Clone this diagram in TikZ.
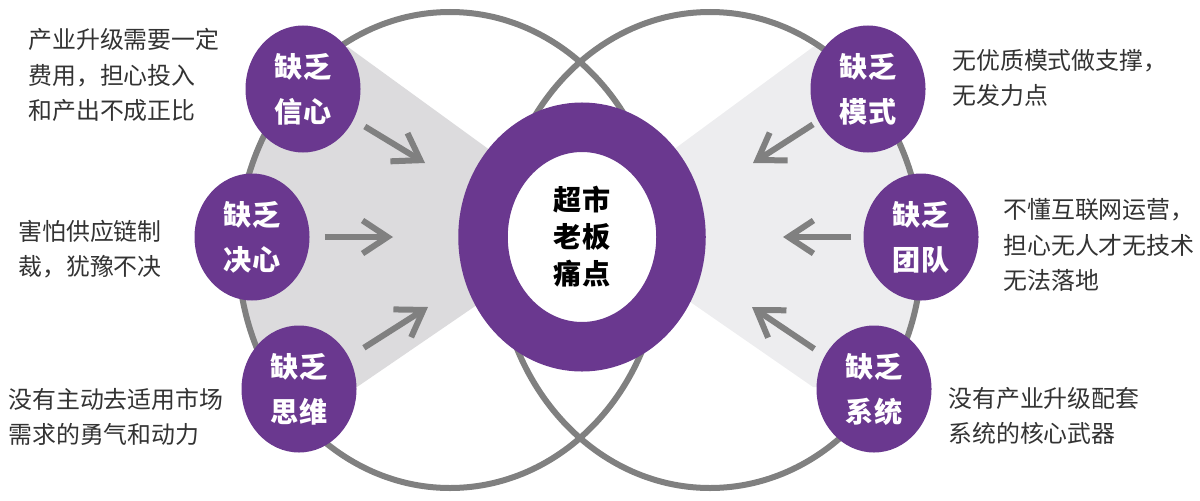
\documentclass[tikz,border=0pt]{standalone}
\usepackage{fontspec}
\setmainfont{Noto Sans CJK SC}
\usetikzlibrary{shapes.geometric,arrows.meta}
\definecolor{plum}{RGB}{106,56,143}
\definecolor{rimgray}{RGB}{128,128,128}
\definecolor{shadeL}{RGB}{220,219,221}
\definecolor{shadeR}{RGB}{237,237,239}
\definecolor{inkgray}{RGB}{51,51,51}
\begin{document}
\begin{tikzpicture}[x=0.2mm,y=-0.2mm,
	lack/.style={ellipse,fill=plum,minimum width=23mm,minimum height=25.4mm,inner sep=0pt,text=white,align=center,font=\fontsize{16pt}{25.6pt}\selectfont\bfseries},
	hub/.style={ellipse,draw=plum,line width=9.9mm,fill=white,minimum width=39.6mm,minimum height=43.9mm,inner sep=0pt,text=black,align=center,font=\fontsize{16pt}{21pt}\selectfont\bfseries},
	note/.style={anchor=west,inner sep=0pt,align=left,text=inkgray,font=\fontsize{13.6pt}{20pt}\selectfont},
	pointer/.style={draw=rimgray,line width=1.2mm,-{Straight Barb[length=5mm,width=6.6mm]}},
	rim/.style={draw=rimgray,line width=1.2mm}]
	\useasboundingbox (0,0) rectangle (1200,500);
	% shaded fans
	\begin{scope}
		\clip (450,250) ellipse [x radius=212, y radius=238];
		\fill[shadeL] (348,47) -- (582,217) -- (582,233) -- (357,387) -- (150,387) -- (150,47) -- cycle;
	\end{scope}
	\begin{scope}
		\clip (710,250) ellipse [x radius=212, y radius=238];
		\fill[shadeR] (813,47) -- (582,217) -- (582,227) -- (813,387) -- (1000,387) -- (1000,47) -- cycle;
	\end{scope}
	% two big circles
	\draw[rim] (450,250) ellipse [x radius=212, y radius=238];
	\draw[rim] (710,250) ellipse [x radius=212, y radius=238];
	% nodes
	\node[lack] (faith) at (303,89) {缺乏\\信心};
	\node[lack] (resolve) at (252,237) {缺乏\\决心};
	\node[lack] (mind) at (299,389) {缺乏\\思维};
	\node[lack] (model) at (868,89) {缺乏\\模式};
	\node[lack] (team) at (921,237) {缺乏\\团队};
	\node[lack] (system) at (874,389) {缺乏\\系统};
	\node[hub] (pain) at (582,237) {超市\\老板\\痛点};
	% arrows
	\coordinate (faith tip) at (425,163);
	\coordinate (resolve tip) at (393,237);
	\coordinate (mind tip) at (428,307);
	\coordinate (model tip) at (753,163);
	\coordinate (team tip) at (783,237);
	\coordinate (system tip) at (752,307);
	\draw[pointer, shorten <=2.6mm] (faith) -- (faith tip);
	\draw[pointer, shorten <=3mm] (resolve) -- (resolve tip);
	\draw[pointer, shorten <=3.5mm] (mind) -- (mind tip);
	\draw[pointer, shorten <=1.2mm] (model) -- (model tip);
	\draw[pointer, shorten <=2.4mm] (team) -- (team tip);
	\draw[pointer, shorten <=2.5mm] (system) -- (system tip);
	% notes
	\node[note] (faith note) at (28,75) {产业升级需要一定\\费用，担心投入\\和产出不成正比};
	\node[note] (resolve note) at (18,249) {害怕供应链制\\裁，犹豫不决};
	\node[note] (mind note) at (8,417) {没有主动去适用市场\\需求的勇气和动力};
	\node[note] (model note) at (952,78) {无优质模式做支撑，\\无发力点};
	\node[note] (team note) at (1003,245) {不懂互联网运营，\\担心无人才无技术\\无法落地};
	\node[note] (system note) at (948,416) {没有产业升级配套\\系统的核心武器};
\end{tikzpicture}
\end{document}
